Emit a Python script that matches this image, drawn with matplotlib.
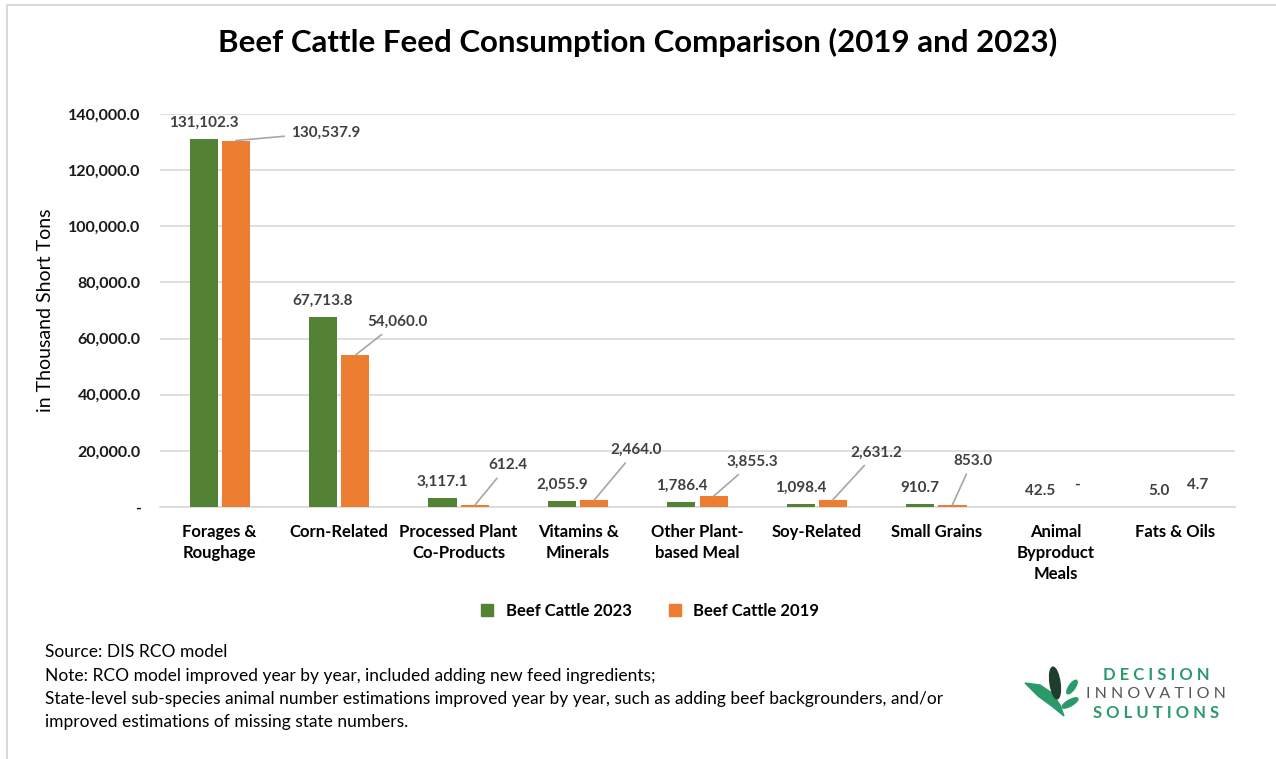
import numpy as np
import matplotlib.pyplot as plt
from matplotlib.patches import Ellipse, Polygon
from matplotlib.lines import Line2D

plt.rcParams['font.family'] = ['Lato', 'DejaVu Sans']

# data
cats = ['Forages &\nRoughage', 'Corn-Related', 'Processed Plant\nCo-Products',
        'Vitamins &\nMinerals', 'Other Plant-\nbased Meal', 'Soy-Related',
        'Small Grains', 'Animal\nByproduct\nMeals', 'Fats & Oils']
cattle_2023 = [131102.3, 67713.8, 3117.1, 2055.9, 1786.4, 1098.4, 910.7, 42.5, 5.0]
cattle_2019 = [130537.9, 54060.0, 612.4, 2464.0, 3855.3, 2631.2, 853.0, 0.0, 4.7]
yticks = [0, 20000, 40000, 60000, 80000, 100000, 120000, 140000]

# label offsets (pixels) for the 2019 labels, and whether a leader line is drawn
off_2019 = [(90, 8), (42, 33), (33, 40), (42, 50), (39, 34), (43, 47), (20, 44), (5, 22), (6, 22)]
leader = [True, True, True, True, True, True, True, False, False]

green = '#548235'
orange = '#ED7D31'
lblc = '#404040'

fig = plt.figure(figsize=(12.76, 7.59), dpi=100)
ax = fig.add_axes([160/1276, 252/759, 1075/1276, 393/759])

x = np.arange(len(cats))
w = 0.235
ax.bar(x - 0.135, cattle_2023, w, color=green, label='Beef Cattle 2023', zorder=3)
ax.bar(x + 0.135, cattle_2019, w, color=orange, label='Beef Cattle 2019', zorder=3)

ax.set_xlim(-0.5, len(cats) - 0.5)
ax.set_ylim(0, 140000)
ax.set_yticks(yticks)
ax.set_yticklabels(['-' if v == 0 else f'{v:,.1f}' for v in yticks],
                   fontsize=11.5, fontweight='bold', color='#1a1a1a')
ax.set_xticks(x)
ax.set_xticklabels(cats, fontsize=12, fontweight='bold', va='top', linespacing=1.4)
ax.tick_params(length=0)
ax.tick_params(axis='y', pad=14)
ax.tick_params(axis='x', pad=12)
ax.grid(axis='y', color='#d9d9d9', lw=1.2, zorder=0)
for s in ['top', 'right', 'left']:
    ax.spines[s].set_visible(False)
ax.spines['bottom'].set_color('#d9d9d9')
ax.spines['bottom'].set_linewidth(1.2)
ax.set_ylabel('in Thousand Short Tons', fontsize=14, labelpad=10)

for i in range(len(cats)):
    ax.annotate(f'{cattle_2023[i]:,.1f}', (x[i] - 0.135, cattle_2023[i]),
                xytext=(0, 9), textcoords='offset pixels', ha='center', va='bottom',
                fontsize=11, fontweight='bold', color=lblc)
    txt = '-' if cattle_2019[i] == 0 else f'{cattle_2019[i]:,.1f}'
    dx, dy = off_2019[i]
    ax.annotate(txt, (x[i] + 0.135, cattle_2019[i]),
                xytext=(dx, dy), textcoords='offset pixels', ha='center', va='center',
                fontsize=11, fontweight='bold', color=lblc,
                arrowprops=dict(arrowstyle='-', color='#a6a6a6', lw=1.2,
                                shrinkA=3, shrinkB=0) if leader[i] else None)

fig.text(0.5, 1 - 42/759, 'Beef Cattle Feed Consumption Comparison (2019 and 2023)',
         ha='center', va='center', fontsize=22.5, fontweight='bold')

handles = [Line2D([], [], marker='s', ls='', color=green, markersize=9),
           Line2D([], [], marker='s', ls='', color=orange, markersize=9)]
fig.legend(handles, ['Beef Cattle 2023', 'Beef Cattle 2019'], loc='center',
           bbox_to_anchor=(645/1276, 1 - 611/759), ncol=2, frameon=False,
           prop=dict(size=12, weight='bold'), handletextpad=0.1, columnspacing=1.6)

notes = ['Source: DIS RCO model',
         'Note: RCO model improved year by year, included adding new feed ingredients;',
         'State-level sub-species animal number estimations improved year by year, such as adding beef backgrounders, and/or',
         'improved estimations of missing state numbers.']
for k, t in enumerate(notes):
    fig.text(45/1276, 1 - (652 + k * 23.5)/759, t, ha='left', va='center', fontsize=12.5)

# frame lines
fig.add_artist(Line2D([7/1276, 7/1276], [0, 1 - 5/759], color='#d9d9d9', lw=1.5))
fig.add_artist(Line2D([7/1276, 1], [1 - 5/759, 1 - 5/759], color='#d9d9d9', lw=1.5))

# logo
lg = fig.add_axes([1020/1276, 1 - 725/759, 210/1276, 62/759])
lg.set_xlim(0, 210)
lg.set_ylim(62, 0)
lg.axis('off')
lg_green = '#2b9a6b'
lg.add_patch(Polygon([(5, 20), (20, 22), (32, 30), (40, 42), (44, 53), (33, 44), (18, 33)],
                     closed=True, color=lg_green))
lg.add_patch(Ellipse((35, 20), 10, 32, angle=-8, color='#1f3d2c'))
lg.add_patch(Ellipse((52, 24), 6, 16, angle=35, color=lg_green))
lg.add_patch(Ellipse((50, 40), 6, 18, angle=60, color=lg_green))
lg.text(136, 12, 'D E C I S I O N', ha='center', va='center', fontsize=12,
        fontweight='bold', color=lg_green)
lg.text(136, 31, 'I N N O V A T I O N', ha='center', va='center', fontsize=11.5,
        color='#555555')
lg.text(136, 50, 'S O L U T I O N S', ha='center', va='center', fontsize=12,
        fontweight='bold', color=lg_green)

fig.savefig('out.png', dpi=100)
